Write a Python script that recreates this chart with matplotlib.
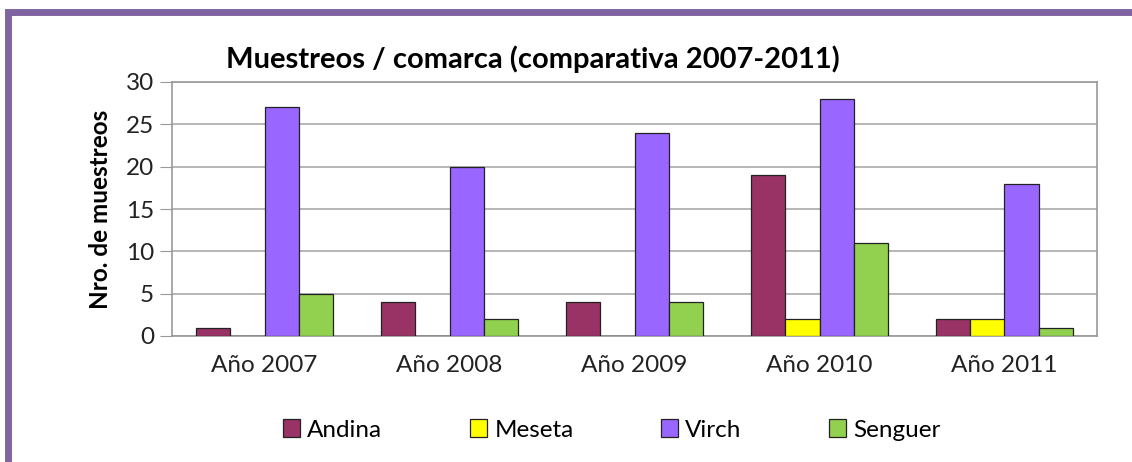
import matplotlib.pyplot as plt
import numpy as np
from matplotlib.patches import Rectangle

years = ["Año 2007", "Año 2008", "Año 2009", "Año 2010", "Año 2011"]
series = ["Andina", "Meseta", "Virch", "Senguer"]
andina = [1, 4, 4, 19, 2]
meseta = [0, 0, 0, 2, 2]
virch = [27, 20, 24, 28, 18]
senguer = [5, 2, 4, 11, 1]
colors = ["#993366", "#FFFF00", "#9966FF", "#92D050"]

plt.rcParams['font.family'] = ['Lato', 'DejaVu Sans']

fig = plt.figure(figsize=(11.32, 4.62), dpi=100)
ax = fig.add_axes([172 / 1132, 1 - 336 / 462, (1097 - 172) / 1132, (336 - 82) / 462])

x = np.arange(len(years))
w = 0.184
for i, (name, vals) in enumerate(zip(series, [andina, meseta, virch, senguer])):
    ax.bar(x + (i - 1.5) * w, vals, w, color=colors[i], edgecolor="#222222",
           linewidth=0.9, label=name, zorder=3)

ax.set_xlim(-0.5, len(years) - 0.5)
ax.set_ylim(0, 30)
ax.set_yticks(range(0, 31, 5))
ax.set_xticks(x)
ax.set_xticklabels(years, fontsize=17.5, color="#222222")
ax.tick_params(axis="y", labelsize=17.5, colors="#222222", length=9, color="#999999", pad=4)
ax.tick_params(axis="x", length=0, pad=14)
ax.yaxis.grid(True, color="#aaaaaa", linewidth=1.2, zorder=0)
for s in ax.spines.values():
    s.set_color("#999999")
    s.set_linewidth(1.2)
ax.set_ylabel("Nro. de muestreos", fontsize=17.5, fontweight="bold", labelpad=10)

fig.text(533 / 1132, 1 - 59 / 462, "Muestreos / comarca (comparativa 2007-2011)",
         fontsize=21, fontweight="bold", ha="center", va="center")

fig.legend(loc="center", bbox_to_anchor=(612 / 1132, 1 - 430 / 462), ncol=4,
           frameon=False, fontsize=17.5, handlelength=0.7, handleheight=0.7,
           columnspacing=3.6, handletextpad=0.3)

# purple frame around the chart
fig.patches.append(Rectangle((7.5 / 1132, -0.05), 1.2, 1 - 11.5 / 462 + 0.05, transform=fig.transFigure,
                             fill=False, edgecolor="#8064A2", linewidth=5))

fig.savefig("out.png", dpi=100)
